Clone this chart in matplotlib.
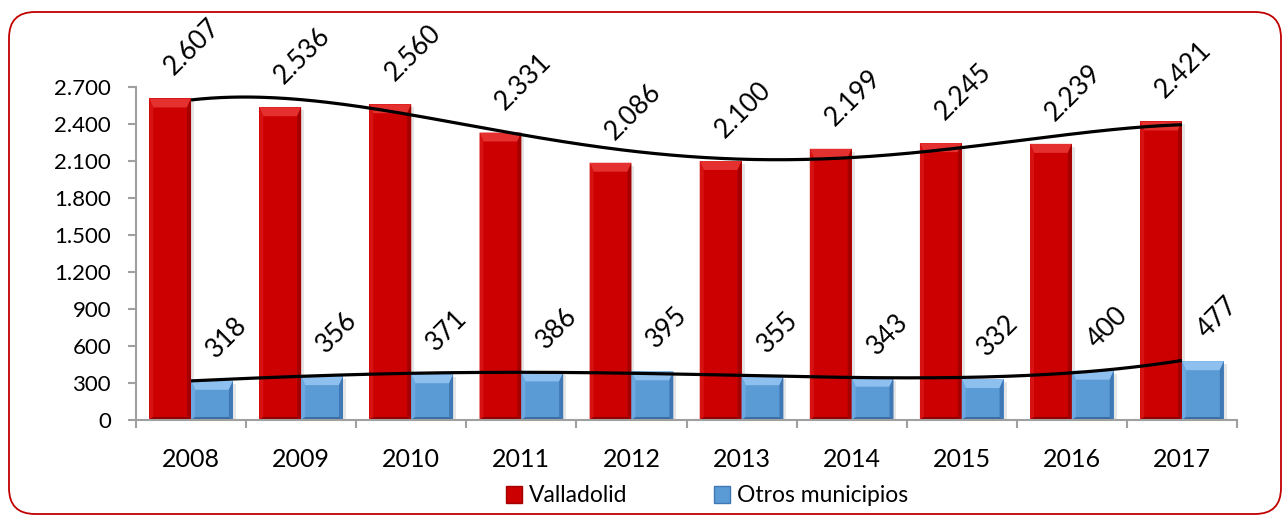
import numpy as np
import matplotlib
matplotlib.use("Agg")
import matplotlib.pyplot as plt
from matplotlib.patches import Polygon, Rectangle, FancyBboxPatch
from matplotlib.transforms import IdentityTransform

plt.rcParams['font.family'] = ['Lato', 'DejaVu Sans']

years = ['2008', '2009', '2010', '2011', '2012', '2013', '2014', '2015', '2016', '2017']
valladolid = [2607, 2536, 2560, 2331, 2086, 2100, 2199, 2245, 2239, 2421]
otros = [318, 356, 371, 386, 395, 355, 343, 332, 400, 477]
yticks = [0, 300, 600, 900, 1200, 1500, 1800, 2100, 2400, 2700]
series_names = ['Valladolid', 'Otros municipios']
trend_order = 4

W, H = 1284, 517
fig = plt.figure(figsize=(W / 100, H / 100), dpi=100)
fig.patch.set_facecolor('white')
ax = fig.add_axes([136 / W, 1 - 420 / H, (1237 - 136) / W, (420 - 87) / H])

x = np.arange(len(years))
bw = 0.38
ax.set_xlim(-0.5, len(years) - 0.5)
ax.set_ylim(0, 2700)

red = dict(main='#CC0000', top='#E53030', left='#D61212', right='#A30000', bottom='#8E0000')
blue = dict(main='#5B9BD5', top='#8EC0EF', left='#6BA8E1', right='#3F78B4', bottom='#3A6CA5')

def bevel_bars(xs, vals, col, xoff):
    bars = ax.bar(xs + xoff, vals, width=bw, color=col['main'], align='edge', zorder=2, linewidth=0)
    inv = ax.transData.inverted()
    for r in bars:
        x0, y0 = r.get_x(), 0
        x1, y1 = x0 + r.get_width(), r.get_height()
        (px0, py0), (px1, py1) = ax.transData.transform([(x0, y0), (x1, y1)])
        t, s, b = 9, 4, 3
        def d(p):
            return inv.transform(p)
        ax.add_patch(Polygon([d((px0 + 3, py0)), d((px1 + 3, py0)), d((px1 + 3, py1 - 3)), d((px0 + 3, py1 - 3))],
                             closed=True, facecolor='#000000', alpha=0.10, lw=0, zorder=1.5))
        ax.add_patch(Polygon([d((px0, py1)), d((px1, py1)), d((px1 - s, py1 - t)), d((px0 + s, py1 - t))],
                             closed=True, facecolor=col['top'], lw=0, zorder=2.1))
        ax.add_patch(Polygon([d((px0, py1)), d((px0 + s, py1 - t)), d((px0 + s, py0 + b)), d((px0, py0))],
                             closed=True, facecolor=col['left'], lw=0, zorder=2.1))
        ax.add_patch(Polygon([d((px1, py1)), d((px1 - s, py1 - t)), d((px1 - s, py0 + b)), d((px1, py0))],
                             closed=True, facecolor=col['right'], lw=0, zorder=2.1))
        ax.add_patch(Polygon([d((px0, py0)), d((px0 + s, py0 + b)), d((px1 - s, py0 + b)), d((px1, py0))],
                             closed=True, facecolor=col['bottom'], lw=0, zorder=2.1))
    return bars

bevel_bars(x, valladolid, red, -bw)
bevel_bars(x, otros, blue, 0)

# polynomial trend lines
xs = np.linspace(0, len(years) - 1, 300)
for vals in (valladolid, otros):
    c = np.polyfit(x, vals, trend_order)
    ax.plot(xs, np.polyval(c, xs), color='black', lw=2.3, zorder=4, solid_capstyle='butt')

def fmt(v):
    return f"{v:,}".replace(',', '.')

for centers, vals in ((x - bw / 2, valladolid), (x + bw / 2, otros)):
    for xi, v in zip(centers, vals):
        ax.annotate(fmt(v), xy=(xi, v), xytext=(4, 22), textcoords='offset pixels',
                    rotation=45, rotation_mode='anchor', ha='left', va='baseline',
                    fontsize=19, color='black', zorder=5, annotation_clip=False)

for sp in ['top', 'right']:
    ax.spines[sp].set_visible(False)
for sp in ['left', 'bottom']:
    ax.spines[sp].set_color('#A0A0A0')
    ax.spines[sp].set_linewidth(1.5)
ax.set_yticks(yticks)
ax.set_yticklabels([fmt(v) for v in yticks])
ax.tick_params(axis='y', length=6, width=1.5, color='#A0A0A0', pad=12, labelsize=16)
ax.set_xticks(x)
ax.set_xticklabels(years)
ax.set_xticks(np.arange(-0.5, len(years)), minor=True)
ax.tick_params(axis='x', which='major', length=0, pad=20, labelsize=18)
ax.tick_params(axis='x', which='minor', length=6, width=1.5, color='#A0A0A0')

handles = [Rectangle((0, 0), 1, 1, facecolor=red['main'], edgecolor=red['right'], lw=1),
           Rectangle((0, 0), 1, 1, facecolor=blue['main'], edgecolor=blue['right'], lw=1)]
fig.legend(handles, series_names, loc='center', bbox_to_anchor=(707 / W, 1 - 496 / H),
           ncol=2, frameon=False, fontsize=16.5, handlelength=0.7, handleheight=0.7,
           handletextpad=0.3, columnspacing=3.8)

frame = FancyBboxPatch((9, H - 514), 1281 - 9, 514 - 12,
                       boxstyle='round,pad=0,rounding_size=26',
                       transform=IdentityTransform(), facecolor='none',
                       edgecolor='#C00000', lw=1.3)
fig.add_artist(frame)

fig.savefig('out.png', dpi=100)
